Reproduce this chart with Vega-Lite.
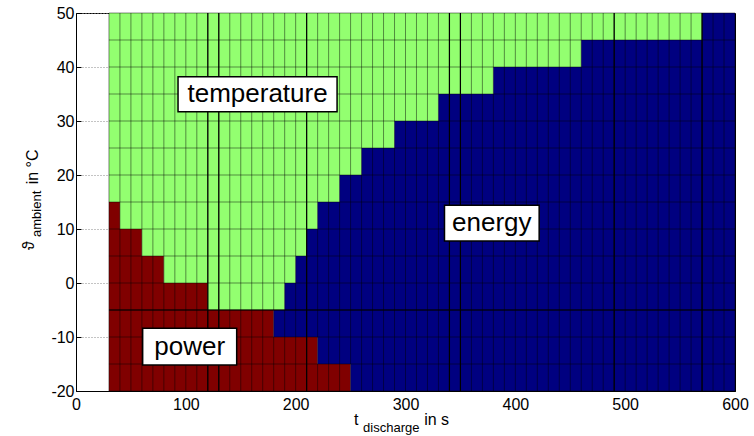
{
  "$schema": "https://vega.github.io/schema/vega-lite/v6.json",
  "width": 659,
  "height": 378,
  "autosize": {"type": "none"},
  "padding": {"left": 76, "top": 13, "right": 19, "bottom": 45},
  "background": "white",
  "config": {
    "view": {"stroke": "black", "strokeWidth": 1},
    "font": "Liberation Sans",
    "axis": {"labelFont": "Liberation Sans", "labelFontSize": 16, "labelColor": "black", "domainColor": "black", "tickColor": "black", "titleFont": "Liberation Sans", "labelFlush": false}
  },
  "datasets": {
    "cells": [
      {"t0": 30, "t1": 250, "a0": -20, "a1": -15, "c": "power"},
      {"t0": 250, "t1": 600, "a0": -20, "a1": -15, "c": "energy"},
      {"t0": 30, "t1": 220, "a0": -15, "a1": -10, "c": "power"},
      {"t0": 220, "t1": 600, "a0": -15, "a1": -10, "c": "energy"},
      {"t0": 30, "t1": 180, "a0": -10, "a1": -5, "c": "power"},
      {"t0": 180, "t1": 600, "a0": -10, "a1": -5, "c": "energy"},
      {"t0": 30, "t1": 120, "a0": -5, "a1": 0, "c": "power"},
      {"t0": 120, "t1": 190, "a0": -5, "a1": 0, "c": "temperature"},
      {"t0": 190, "t1": 600, "a0": -5, "a1": 0, "c": "energy"},
      {"t0": 30, "t1": 80, "a0": 0, "a1": 5, "c": "power"},
      {"t0": 80, "t1": 200, "a0": 0, "a1": 5, "c": "temperature"},
      {"t0": 200, "t1": 600, "a0": 0, "a1": 5, "c": "energy"},
      {"t0": 30, "t1": 60, "a0": 5, "a1": 10, "c": "power"},
      {"t0": 60, "t1": 210, "a0": 5, "a1": 10, "c": "temperature"},
      {"t0": 210, "t1": 600, "a0": 5, "a1": 10, "c": "energy"},
      {"t0": 30, "t1": 40, "a0": 10, "a1": 15, "c": "power"},
      {"t0": 40, "t1": 220, "a0": 10, "a1": 15, "c": "temperature"},
      {"t0": 220, "t1": 600, "a0": 10, "a1": 15, "c": "energy"},
      {"t0": 30, "t1": 240, "a0": 15, "a1": 20, "c": "temperature"},
      {"t0": 240, "t1": 600, "a0": 15, "a1": 20, "c": "energy"},
      {"t0": 30, "t1": 260, "a0": 20, "a1": 25, "c": "temperature"},
      {"t0": 260, "t1": 600, "a0": 20, "a1": 25, "c": "energy"},
      {"t0": 30, "t1": 290, "a0": 25, "a1": 30, "c": "temperature"},
      {"t0": 290, "t1": 600, "a0": 25, "a1": 30, "c": "energy"},
      {"t0": 30, "t1": 330, "a0": 30, "a1": 35, "c": "temperature"},
      {"t0": 330, "t1": 600, "a0": 30, "a1": 35, "c": "energy"},
      {"t0": 30, "t1": 380, "a0": 35, "a1": 40, "c": "temperature"},
      {"t0": 380, "t1": 600, "a0": 35, "a1": 40, "c": "energy"},
      {"t0": 30, "t1": 460, "a0": 40, "a1": 45, "c": "temperature"},
      {"t0": 460, "t1": 600, "a0": 40, "a1": 45, "c": "energy"},
      {"t0": 30, "t1": 570, "a0": 45, "a1": 50, "c": "temperature"},
      {"t0": 570, "t1": 600, "a0": 45, "a1": 50, "c": "energy"}
    ],
    "vlines": [
      {"t": 30}, {"t": 40}, {"t": 50}, {"t": 60}, {"t": 70}, {"t": 80}, {"t": 90}, {"t": 100},
      {"t": 110}, {"t": 120}, {"t": 130}, {"t": 140}, {"t": 150}, {"t": 160}, {"t": 170}, {"t": 180},
      {"t": 190}, {"t": 200}, {"t": 210}, {"t": 220}, {"t": 230}, {"t": 240}, {"t": 250}, {"t": 260},
      {"t": 270}, {"t": 280}, {"t": 290}, {"t": 300}, {"t": 310}, {"t": 320}, {"t": 330}, {"t": 340},
      {"t": 350}, {"t": 360}, {"t": 370}, {"t": 380}, {"t": 390}, {"t": 400}, {"t": 410}, {"t": 420},
      {"t": 430}, {"t": 440}, {"t": 450}, {"t": 460}, {"t": 470}, {"t": 480}, {"t": 490}, {"t": 500},
      {"t": 510}, {"t": 520}, {"t": 530}, {"t": 540}, {"t": 550}, {"t": 560}, {"t": 570}, {"t": 580},
      {"t": 590}, {"t": 600}
    ],
    "hlines": [
      {"a": -20}, {"a": -15}, {"a": -10}, {"a": -5}, {"a": 0}, {"a": 5}, {"a": 10}, {"a": 15},
      {"a": 20}, {"a": 25}, {"a": 30}, {"a": 35}, {"a": 40}, {"a": 45}, {"a": 50}
    ],
    "thickv": [{"t": 120}, {"t": 130}, {"t": 210}, {"t": 340}, {"t": 350}, {"t": 490}, {"t": 570}],
    "thickh": [{"a": -5}],
    "labels": [
      {"x0": 92.9, "x1": 237.7, "y0": 31.7, "y1": 38.2, "xc": 165.3, "yc": 34.95, "s": "temperature"},
      {"x0": 60.7, "x1": 146.3, "y0": -15.2, "y1": -8.4, "xc": 103.5, "yc": -11.8, "s": "power"},
      {"x0": 335.5, "x1": 421.7, "y0": 7.8, "y1": 14.4, "xc": 378.6, "yc": 11.1, "s": "energy"}
    ]
  },
  "layer": [
    {
      "data": {"name": "cells"},
      "mark": {"type": "rect"},
      "encoding": {
        "x": {"field": "t0", "type": "quantitative", "scale": {"domain": [0, 600], "nice": false, "zero": false},
              "axis": {"values": [0, 100, 200, 300, 400, 500, 600], "title": null, "grid": false, "tickSize": -5, "labelPadding": 10, "labelFlush": false}},
        "x2": {"field": "t1"},
        "y": {"field": "a0", "type": "quantitative", "scale": {"domain": [-20, 50], "nice": false, "zero": false},
              "axis": {"values": [-20, -10, 0, 10, 20, 30, 40, 50], "title": null, "grid": true, "gridDash": [1, 2], "gridColor": "#888888", "tickSize": -5, "labelPadding": 7, "labelFlush": false, "labelExpr": "replace(datum.label, '\u2212', '-')"}},
        "y2": {"field": "a1"},
        "color": {"field": "c", "type": "nominal", "scale": {"domain": ["power", "temperature", "energy"], "range": ["#800000", "#93FF70", "#000080"]}, "legend": null}
      }
    },
    {
      "data": {"name": "vlines"},
      "mark": {"type": "rule", "color": "black", "opacity": 0.45, "strokeWidth": 1},
      "encoding": {"x": {"field": "t", "type": "quantitative"}, "y": {"datum": -20}, "y2": {"datum": 50}}
    },
    {
      "data": {"name": "hlines"},
      "mark": {"type": "rule", "color": "black", "opacity": 0.45, "strokeWidth": 1},
      "encoding": {"y": {"field": "a", "type": "quantitative"}, "x": {"datum": 30}, "x2": {"datum": 600}}
    },
    {
      "data": {"name": "thickv"},
      "mark": {"type": "rule", "color": "black", "strokeWidth": 1.2},
      "encoding": {"x": {"field": "t", "type": "quantitative"}, "y": {"datum": -20}, "y2": {"datum": 50}}
    },
    {
      "data": {"name": "thickh"},
      "mark": {"type": "rule", "color": "black", "strokeWidth": 1.2},
      "encoding": {"y": {"field": "a", "type": "quantitative"}, "x": {"datum": 30}, "x2": {"datum": 600}}
    },
    {
      "data": {"name": "labels"},
      "mark": {"type": "rect", "fill": "white", "stroke": "black", "strokeWidth": 1.5},
      "encoding": {"x": {"field": "x0", "type": "quantitative"}, "x2": {"field": "x1"}, "y": {"field": "y0", "type": "quantitative"}, "y2": {"field": "y1"}}
    },
    {
      "data": {"name": "labels"},
      "mark": {"type": "text", "font": "Liberation Sans", "fontSize": 26, "color": "black", "align": "center", "baseline": "middle"},
      "encoding": {"x": {"field": "xc", "type": "quantitative"}, "y": {"field": "yc", "type": "quantitative"}, "text": {"field": "s"}}
    },
    {
      "data": {"values": [{"x": 253.2, "y": -26.3, "s": "t"}, {"x": 317, "y": -26.3, "s": "in s"}]},
      "mark": {"type": "text", "font": "Liberation Sans", "fontSize": 16, "color": "black", "align": "left", "baseline": "alphabetic", "clip": false},
      "encoding": {"x": {"field": "x", "type": "quantitative"}, "y": {"field": "y", "type": "quantitative"}, "text": {"field": "s"}}
    },
    {
      "data": {"values": [{"x": 261.4, "y": -27.5, "s": "discharge"}]},
      "mark": {"type": "text", "font": "Liberation Sans", "fontSize": 13, "color": "black", "align": "left", "baseline": "alphabetic", "clip": false},
      "encoding": {"x": {"field": "x", "type": "quantitative"}, "y": {"field": "y", "type": "quantitative"}, "text": {"field": "s"}}
    },
    {
      "data": {"values": [{"x": -38.3, "y": 6.9, "s": "ϑ"}, {"x": -34.6, "y": 21.5, "s": "in °C"}]},
      "mark": {"type": "text", "font": "Liberation Sans", "fontSize": 16, "color": "black", "align": "center", "baseline": "alphabetic", "angle": 270, "clip": false},
      "encoding": {"x": {"field": "x", "type": "quantitative"}, "y": {"field": "y", "type": "quantitative"}, "text": {"field": "s"}}
    },
    {
      "data": {"values": [{"x": -31.5, "y": 12.8, "s": "ambient"}]},
      "mark": {"type": "text", "font": "Liberation Sans", "fontSize": 13, "color": "black", "align": "center", "baseline": "alphabetic", "angle": 270, "clip": false},
      "encoding": {"x": {"field": "x", "type": "quantitative"}, "y": {"field": "y", "type": "quantitative"}, "text": {"field": "s"}}
    }
  ]
}
